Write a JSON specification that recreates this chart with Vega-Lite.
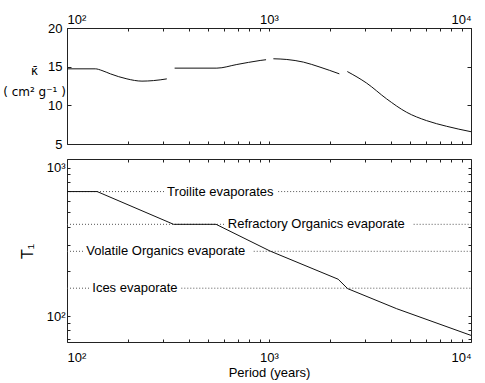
{
  "$schema": "https://vega.github.io/schema/vega-lite/v6.json",
  "padding": {"left": 2, "top": 12, "right": 5, "bottom": 0},
  "config": {
    "font": "Liberation Sans",
    "view": {"stroke": "#222", "strokeWidth": 1},
    "axis": {
      "labelFont": "Liberation Sans", "titleFont": "Liberation Sans",
      "labelFontSize": 13, "titleFontSize": 13, "titleFontWeight": "normal",
      "labelColor": "#000", "titleColor": "#000", "tickColor": "#222",
      "domain": false, "grid": false, "labelPadding": 3
    }
  },
  "datasets": {
    "kappa": [
      {"seg": 1, "P": 100, "k": 14.72}, {"seg": 1, "P": 138, "k": 14.72}, {"seg": 1, "P": 149, "k": 14.5},
      {"seg": 1, "P": 164, "k": 14.07}, {"seg": 1, "P": 198, "k": 13.42}, {"seg": 1, "P": 235, "k": 13.13},
      {"seg": 1, "P": 268, "k": 13.2}, {"seg": 1, "P": 312, "k": 13.42},
      {"seg": 2, "P": 341, "k": 14.81}, {"seg": 2, "P": 552, "k": 14.81}, {"seg": 2, "P": 693, "k": 15.28},
      {"seg": 2, "P": 904, "k": 15.8}, {"seg": 2, "P": 967, "k": 15.9},
      {"seg": 3, "P": 1051, "k": 16.02}, {"seg": 3, "P": 1225, "k": 15.93}, {"seg": 3, "P": 1480, "k": 15.59},
      {"seg": 3, "P": 1789, "k": 14.94}, {"seg": 3, "P": 2230, "k": 14.07},
      {"seg": 4, "P": 2442, "k": 14.37}, {"seg": 4, "P": 3045, "k": 12.87}, {"seg": 4, "P": 3824, "k": 10.83},
      {"seg": 4, "P": 4802, "k": 9.1}, {"seg": 4, "P": 6030, "k": 8.02}, {"seg": 4, "P": 7575, "k": 7.29},
      {"seg": 4, "P": 10000, "k": 6.59}
    ],
    "temp": [
      {"P": 100, "T": 690}, {"P": 141, "T": 690}, {"P": 337, "T": 415}, {"P": 547, "T": 415},
      {"P": 1013, "T": 274}, {"P": 2200, "T": 177}, {"P": 2450, "T": 153}, {"P": 4286, "T": 112},
      {"P": 10000, "T": 74}
    ],
    "levels": [
      {"x1": 100, "x2": 305, "T": 690}, {"x1": 1110, "x2": 10000, "T": 690},
      {"x1": 100, "x2": 612, "T": 415}, {"x1": 5200, "x2": 10000, "T": 415},
      {"x1": 100, "x2": 121, "T": 273}, {"x1": 840, "x2": 10000, "T": 273},
      {"x1": 100, "x2": 130, "T": 154}, {"x1": 368, "x2": 10000, "T": 154}
    ],
    "labels": [
      {"P": 313, "T": 690, "label": "Troilite evaporates"},
      {"P": 625, "T": 415, "label": "Refractory Organics evaporate"},
      {"P": 124.6, "T": 273, "label": "Volatile Organics evaporate"},
      {"P": 133.4, "T": 154, "label": "Ices evaporate"}
    ]
  },
  "spacing": 6,
  "vconcat": [
    {
      "width": 404, "height": 116,
      "data": {"name": "kappa"},
      "layer": [
        {
          "mark": {"type": "line", "color": "#111", "strokeWidth": 1, "interpolate": "monotone"},
          "encoding": {
            "x": {"field": "P", "type": "quantitative",
              "scale": {"type": "log", "domain": [100, 10000], "nice": false},
              "axis": {"orient": "top", "title": null,
                "values": [100,200,300,400,500,600,700,800,900,1000,2000,3000,4000,5000,6000,7000,8000,9000,10000],
                "labelExpr": "datum.value == 100 ? '10²' : datum.value == 1000 ? '10³' : datum.value == 10000 ? '10⁴' : ''",
                "tickSize": -3, "labelPadding": 5}},
            "y": {"field": "k", "type": "quantitative",
              "scale": {"domain": [5, 20], "nice": false, "zero": false},
              "axis": {"orient": "left", "values": [5, 10, 15, 20], "tickSize": -4, "labelPadding": 9,
                "title": ["κ̄", "( cm² g⁻¹ )"], "titleAngle": 0, "titleAlign": "center",
                "titleFont": "DejaVu Sans", "titleFontSize": 12,
                "titleBaseline": "alphabetic", "titleX": -33, "titleY": 46, "titleLineHeight": 21}},
            "detail": {"field": "seg", "type": "nominal"}
          }
        },
        {
          "mark": {"type": "line", "opacity": 0},
          "encoding": {
            "x": {"field": "P", "type": "quantitative",
              "scale": {"type": "log", "domain": [100, 10000], "nice": false},
              "axis": {"orient": "bottom", "title": null, "labels": false,
                "values": [100,200,300,400,500,600,700,800,900,1000,2000,3000,4000,5000,6000,7000,8000,9000,10000],
                "tickSize": -3}},
            "y": {"field": "k", "type": "quantitative",
              "scale": {"domain": [5, 20], "nice": false, "zero": false},
              "axis": {"orient": "right", "values": [5, 10, 15, 20], "tickSize": -4, "labels": false, "title": null}},
            "detail": {"field": "seg", "type": "nominal"}
          }
        }
      ],
      "resolve": {"axis": {"x": "independent", "y": "independent"}}
    },
    {
      "width": 404, "height": 183,
      "layer": [
        {
          "data": {"name": "levels"},
          "mark": {"type": "rule", "strokeDash": [1, 2], "color": "#555", "strokeWidth": 1},
          "encoding": {
            "x": {"field": "x1", "type": "quantitative",
              "scale": {"type": "log", "domain": [100, 10000], "nice": false},
              "axis": {"orient": "bottom", "title": "Period (years)",
                "values": [100,200,300,400,500,600,700,800,900,1000,2000,3000,4000,5000,6000,7000,8000,9000,10000],
                "labelExpr": "datum.value == 100 ? '10²' : datum.value == 1000 ? '10³' : datum.value == 10000 ? '10⁴' : ''",
                "tickSize": -3, "labelPadding": 12, "titlePadding": 2}},
            "x2": {"field": "x2"},
            "y": {"field": "T", "type": "quantitative",
              "scale": {"type": "log", "domain": [66.8, 1144], "nice": false},
              "axis": {"orient": "left", "title": "T₁", "titleFontSize": 16,
                "values": [70, 80, 90, 100, 200, 300, 400, 500, 600, 700, 800, 900, 1000],
                "labelExpr": "datum.value == 100 ? '10²' : datum.value == 1000 ? '10³' : ''",
                "tickSize": -3, "labelPadding": 5, "titleAngle": -90, "titleX": -40, "titleY": 92,
                "titleBaseline": "middle", "titleAlign": "center"}}
          }
        },
        {
          "data": {"name": "temp"},
          "mark": {"type": "line", "color": "#111", "strokeWidth": 1},
          "encoding": {
            "x": {"field": "P", "type": "quantitative",
              "scale": {"type": "log", "domain": [100, 10000], "nice": false},
              "axis": {"orient": "top", "title": null, "labels": false,
                "values": [100,200,300,400,500,600,700,800,900,1000,2000,3000,4000,5000,6000,7000,8000,9000,10000],
                "tickSize": -3}},
            "y": {"field": "T", "type": "quantitative",
              "scale": {"type": "log", "domain": [66.8, 1144], "nice": false},
              "axis": {"orient": "right", "title": null, "labels": false,
                "values": [70, 80, 90, 100, 200, 300, 400, 500, 600, 700, 800, 900, 1000],
                "tickSize": -3}}
          }
        },
        {
          "data": {"name": "labels"},
          "mark": {"type": "text", "align": "left", "baseline": "middle", "fontSize": 13, "font": "Liberation Sans", "color": "#000"},
          "encoding": {
            "x": {"field": "P", "type": "quantitative", "scale": {"type": "log", "domain": [100, 10000], "nice": false}, "axis": null},
            "y": {"field": "T", "type": "quantitative", "scale": {"type": "log", "domain": [66.8, 1144], "nice": false}, "axis": null},
            "text": {"field": "label"}
          }
        }
      ],
      "resolve": {"axis": {"x": "independent", "y": "independent"}}
    }
  ]
}
